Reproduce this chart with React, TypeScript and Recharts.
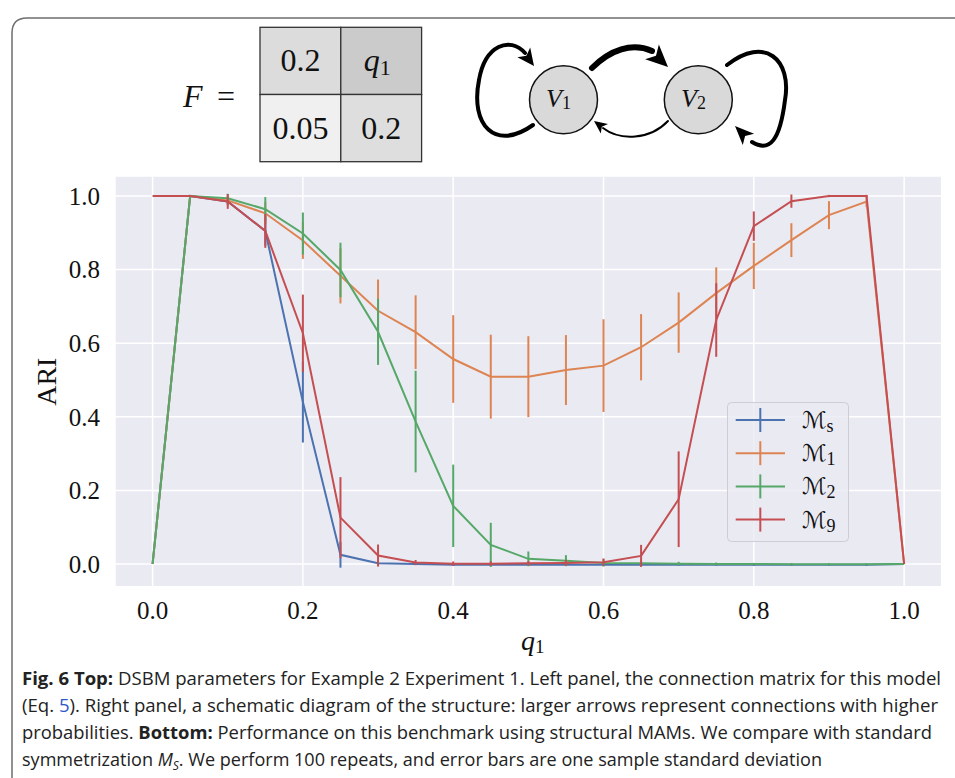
import React from 'react';
import { LineChart, Line, XAxis, YAxis, CartesianGrid, ErrorBar, Legend } from 'recharts';

const qValues = [0, 0.05, 0.1, 0.15, 0.2, 0.25, 0.3, 0.35, 0.4, 0.45, 0.5, 0.55, 0.6, 0.65, 0.7, 0.75, 0.8, 0.85, 0.9, 0.95, 1.0];

const msValues = [0, 1.0, 0.985, 0.905, 0.44, 0.025, 0.002, 0.0, -0.002, -0.002, -0.002, -0.002, -0.002, -0.002, -0.002, -0.002, -0.002, -0.002, -0.002, -0.002, 0];
const msErrors = [0, 0, 0.01, 0.04, 0.11, 0.035, 0.005, 0.003, 0.003, 0.003, 0.003, 0.003, 0.003, 0.003, 0.003, 0.003, 0.003, 0.003, 0.003, 0.003, 0];

const m1Values = [0, 1.0, 0.988, 0.953, 0.879, 0.783, 0.688, 0.63, 0.557, 0.509, 0.509, 0.527, 0.539, 0.589, 0.656, 0.736, 0.81, 0.88, 0.948, 0.985, 0];
const m1Errors = [0, 0, 0.01, 0.03, 0.05, 0.075, 0.085, 0.1, 0.119, 0.114, 0.11, 0.095, 0.126, 0.09, 0.082, 0.07, 0.063, 0.046, 0.038, 0.015, 0];

const m2Values = [0, 1.0, 0.994, 0.964, 0.898, 0.799, 0.631, 0.387, 0.158, 0.052, 0.014, 0.009, 0.003, 0.002, 0.001, 0.0, 0.0, -0.001, -0.001, -0.001, 0];
const m2Errors = [0, 0, 0.012, 0.033, 0.057, 0.074, 0.09, 0.138, 0.112, 0.06, 0.02, 0.015, 0.01, 0.006, 0.005, 0.004, 0.003, 0.003, 0.003, 0.002, 0];

const m9Values = [1.0, 1.0, 0.985, 0.905, 0.627, 0.126, 0.023, 0.004, 0.001, 0.001, 0.002, 0.003, 0.005, 0.022, 0.176, 0.663, 0.918, 0.986, 1.0, 1.0, 0];
const m9Errors = [0, 0, 0.02, 0.046, 0.105, 0.11, 0.03, 0.007, 0.006, 0.006, 0.006, 0.008, 0.01, 0.03, 0.13, 0.1, 0.04, 0.018, 0.003, 0.003, 0];

const xTicks = [0, 0.2, 0.4, 0.6, 0.8, 1.0];
const yTicks = [0, 0.2, 0.4, 0.6, 0.8, 1.0];

const seriesKeys = ['ms', 'm1', 'm2', 'm9'];
const seriesSubscripts = ['s', '1', '2', '9'];
const seriesColors = ['#4c72b0', '#dd8452', '#55a868', '#c44e52'];

const matrixLabels = [['0.2', 'q1'], ['0.05', '0.2']];
const matrixFills = [['#dcdcdc', '#cbcbcb'], ['#f0f0f0', '#dedede']];

const data = qValues.map((q, i) => ({
  q,
  ms: msValues[i], msErr: msErrors[i],
  m1: m1Values[i], m1Err: m1Errors[i],
  m2: m2Values[i], m2Err: m2Errors[i],
  m9: m9Values[i], m9Err: m9Errors[i],
}));

const SERIF = "'Liberation Serif', 'Times New Roman', serif";

function arrowHead(tipX: number, tipY: number, fromX: number, fromY: number, len: number, halfW: number) {
  const dx = tipX - fromX;
  const dy = tipY - fromY;
  const d = Math.sqrt(dx * dx + dy * dy);
  const ux = dx / d;
  const uy = dy / d;
  const bx = tipX - ux * len;
  const by = tipY - uy * len;
  const px = -uy * halfW;
  const py = ux * halfW;
  return `${tipX},${tipY} ${bx + px},${by + py} ${bx + ux * len * 0.25},${by + uy * len * 0.25} ${bx - px},${by - py}`;
}

const LegendBox = (props: any) => {
  const payload = [...(props.payload || [])].sort(
    (a: any, b: any) => seriesKeys.indexOf(a.dataKey) - seriesKeys.indexOf(b.dataKey)
  );
  return (
    <svg width={123} height={141} style={{ display: 'block' }}>
      <rect x={0.5} y={0.5} width={121} height={139} rx={4} ry={4} fill="rgba(234,234,242,0.8)" stroke="#cdcdd3" strokeWidth={1} />
      {payload.map((p: any, i: number) => {
        const idx = seriesKeys.indexOf(p.dataKey);
        const cy = 18 + i * 33.2;
        return (
          <g key={i}>
            <line x1={8.7} x2={58} y1={cy} y2={cy} stroke={p.color} strokeWidth={2} />
            <line x1={33.3} x2={33.3} y1={cy - 12} y2={cy + 12} stroke={p.color} strokeWidth={2} />
            <text x={75} y={cy + 8} fontFamily="'DejaVu Sans', sans-serif" fontSize={23} fill="#111">
              ℳ<tspan fontFamily={SERIF} fontSize={18} dy={4}>{seriesSubscripts[idx]}</tspan>
            </text>
          </g>
        );
      })}
    </svg>
  );
};

const YLabel = () => (
  <text x={56} y={381.7} transform="rotate(-90, 56, 381.7)" textAnchor="middle" fontFamily={SERIF} fontSize={28} fill="#111">ARI</text>
);

const XLabel = () => (
  <text x={521} y={650} fontFamily={SERIF} fontSize={28} fill="#111">
    <tspan fontStyle="italic">q</tspan><tspan fontSize={19} dy={3}>1</tspan>
  </text>
);

export default function App() {
  const cellW = 80.8;
  const cellH = 67.2;
  const mx = 260;
  const my = 27.3;
  return (
    <div style={{ position: 'absolute', left: 0, top: 0, width: 955, height: 778, background: '#fff', overflow: 'hidden' }}>
      <svg width={955} height={778} style={{ position: 'absolute', left: 0, top: 0 }}>
        <path d="M 12 800 L 12 33 Q 12 18 27 18 L 970 18" fill="none" stroke="#6e6e6e" strokeWidth={1.5} />
        {/* F = matrix */}
        <text x={183} y={106.7} fontFamily={SERIF} fontSize={32} fontStyle="italic" fill="#111">F</text>
        <text x={217} y={106.7} fontFamily={SERIF} fontSize={32} fill="#111">=</text>
        {matrixLabels.map((row, r) =>
          row.map((lab, c) => (
            <g key={`${r}-${c}`}>
              <rect x={mx + c * cellW} y={my + r * cellH} width={cellW} height={cellH} fill={matrixFills[r][c]} stroke="#333" strokeWidth={1.3} />
              {lab === 'q1' ? (
                <text x={mx + c * cellW + cellW / 2 - 4} y={my + r * cellH + 44} textAnchor="middle" fontFamily={SERIF} fontSize={32} fill="#111">
                  <tspan fontStyle="italic">q</tspan><tspan fontSize={22} dy={4}>1</tspan>
                </text>
              ) : (
                <text x={mx + c * cellW + cellW / 2} y={my + r * cellH + 44} textAnchor="middle" fontFamily={SERIF} fontSize={32} fill="#111">{lab}</text>
              )}
            </g>
          ))
        )}
        {/* schematic */}
        <g fill="none" stroke="#000" strokeLinecap="round">
          <path d="M 533 125 C 495 152, 470 125, 479 80 C 485 45, 510 36, 525 53" strokeWidth={4} />
          <path d="M 592 68 C 610 50, 632 42, 652 51" strokeWidth={6} />
          <path d="M 668 121 C 650 140, 620 141, 603 128" strokeWidth={2} />
          <path d="M 727 65 C 765 35, 792 60, 785 100 C 780 140, 770 153, 752 142" strokeWidth={4} />
        </g>
        <g fill="#000">
          <polygon points={arrowHead(534, 66, 522, 50, 17, 8)} />
          <polygon points={arrowHead(668, 67, 650, 50, 22, 10)} />
          <polygon points={arrowHead(594, 121, 606, 130, 13, 6)} />
          <polygon points={arrowHead(735, 126, 752, 143, 19, 8)} />
        </g>
        <circle cx={563.5} cy={99.7} r={34} fill="#d9d9d9" stroke="#111" strokeWidth={1.5} />
        <circle cx={698.3} cy={99.7} r={34} fill="#d9d9d9" stroke="#111" strokeWidth={1.5} />
        <text x={546} y={107} fontFamily={SERIF} fontSize={26} fontStyle="italic" fill="#111">V<tspan fontStyle="normal" fontSize={18} dy={2}>1</tspan></text>
        <text x={681} y={107} fontFamily={SERIF} fontSize={26} fontStyle="italic" fill="#111">V<tspan fontStyle="normal" fontSize={18} dy={2}>2</tspan></text>
        {/* caption */}
        <g fontFamily="'Open Sans', 'Noto Sans', sans-serif" fontSize={18} fill="#222">
          <text x={22} y={684.5} textLength={919} lengthAdjust="spacingAndGlyphs">
            <tspan fontWeight={700}>Fig. 6  Top:</tspan> DSBM parameters for Example 2 Experiment 1. Left panel, the connection matrix for this model
          </text>
          <text x={22} y={712} textLength={916} lengthAdjust="spacingAndGlyphs">
            (Eq. <tspan fill="#2f58c8">5</tspan>). Right panel, a schematic diagram of the structure: larger arrows represent connections with higher
          </text>
          <text x={22} y={739} textLength={910} lengthAdjust="spacingAndGlyphs">
            probabilities. <tspan fontWeight={700}>Bottom:</tspan> Performance on this benchmark using structural MAMs. We compare with standard
          </text>
          <text x={22} y={765.5} textLength={800} lengthAdjust="spacingAndGlyphs">
            symmetrization <tspan fontStyle="italic">M</tspan><tspan fontStyle="italic" fontSize={12} dy={4}>S</tspan><tspan dy={-4}>. We perform 100 repeats, and error bars are one sample standard deviation</tspan>
          </text>
        </g>
      </svg>
      <div style={{ position: 'absolute', left: 0, top: 0 }}>
        <LineChart width={955} height={680} data={data} margin={{ top: 176, right: 13.3, left: 0, bottom: 53.3 }}>
          <CartesianGrid fill="#eaeaf2" stroke="#ffffff" strokeWidth={1.5} />
          <XAxis
            type="number"
            dataKey="q"
            domain={[-0.05, 1.05]}
            ticks={xTicks}
            allowDataOverflow
            axisLine={false}
            tickLine={false}
            tickSize={0}
            tickMargin={15}
            height={40}
            interval={0}
            tickFormatter={(v: number) => v.toFixed(1)}
            tick={{ fontFamily: SERIF, fontSize: 25, fill: '#111' }}
            label={<XLabel />}
          />
          <YAxis
            type="number"
            domain={[-0.0617, 1.0543]}
            ticks={yTicks}
            allowDataOverflow
            axisLine={false}
            tickLine={false}
            tickSize={0}
            tickMargin={15}
            width={115}
            interval={0}
            tickFormatter={(v: number) => v.toFixed(1)}
            tick={{ fontFamily: SERIF, fontSize: 25, fill: '#111' }}
            label={<YLabel />}
          />
          {seriesKeys.map((k, i) => (
            <Line
              key={k}
              type="linear"
              dataKey={k}
              name={k}
              stroke={seriesColors[i]}
              strokeWidth={2}
              dot={false}
              activeDot={false}
              isAnimationActive={false}
            >
              <ErrorBar dataKey={`${k}Err`} width={0} stroke={seriesColors[i]} strokeWidth={2} direction="y" isAnimationActive={false} />
            </Line>
          ))}
          <Legend
            layout="vertical"
            align="center"
            verticalAlign="middle"
            content={<LegendBox />}
            wrapperStyle={{ left: 727, top: 402, width: 123, height: 141 }}
          />
        </LineChart>
      </div>
    </div>
  );
}
